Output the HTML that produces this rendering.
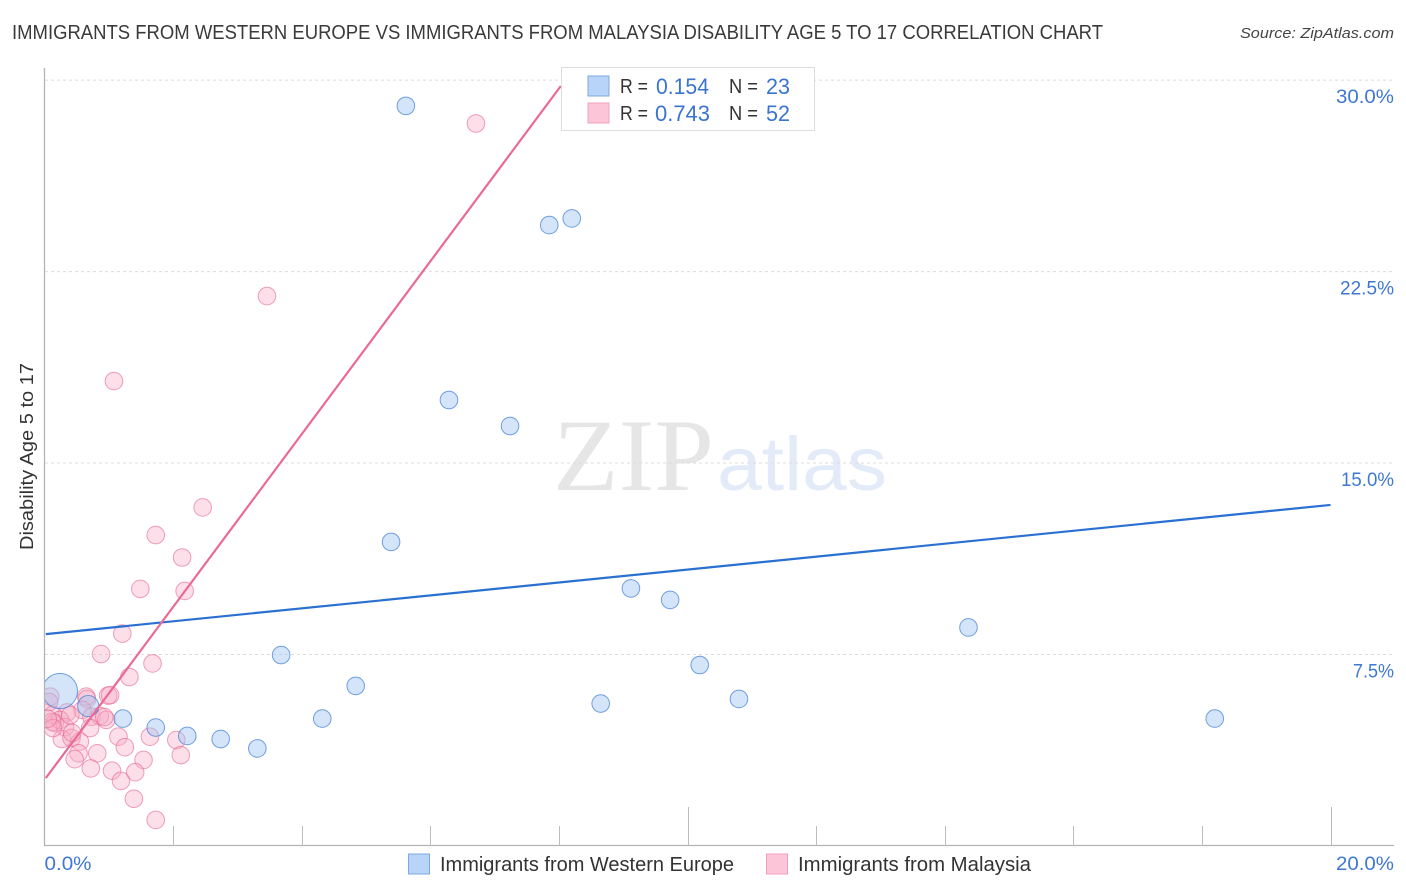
<!DOCTYPE html>
<html lang="en">
<head>
<meta charset="utf-8">
<title>Immigrants from Western Europe vs Immigrants from Malaysia Disability Age 5 to 17 Correlation Chart</title>
<style>
html,body{margin:0;padding:0;background:#fff;}
svg{display:block;font-family:"Liberation Sans",sans-serif;}
</style>
</head>
<body>
<svg id="chart" width="1406" height="892" viewBox="0 0 1406 892" xmlns="http://www.w3.org/2000/svg">
  <defs><clipPath id="plot-clip"><rect x="45" y="60" width="1349" height="786"/></clipPath></defs>
  <text x="12" y="39" font-size="20" fill="#3a3a3a" textLength="1091" lengthAdjust="spacingAndGlyphs">IMMIGRANTS FROM WESTERN EUROPE VS IMMIGRANTS FROM MALAYSIA DISABILITY AGE 5 TO 17 CORRELATION CHART</text>
  <text x="1240" y="38" font-size="15" font-style="italic" fill="#444" textLength="154" lengthAdjust="spacingAndGlyphs">Source: ZipAtlas.com</text>
  <g>
    <text x="553" y="490" font-family="'Liberation Serif',serif" font-size="103" fill="#e6e6e6" textLength="161" lengthAdjust="spacingAndGlyphs">ZIP</text>
    <text x="717" y="490" font-size="76" fill="#e3ebf9" textLength="170" lengthAdjust="spacingAndGlyphs">atlas</text>
  </g>
  <g id="grid"></g>
  <g id="axes"></g>
  <g id="points" clip-path="url(#plot-clip)"></g>
  <g id="trends"></g>
  <g>
    <rect x="561.5" y="67.5" width="253" height="63" fill="#fff" stroke="#ddd" stroke-width="1"/>
    <rect x="588" y="76" width="21" height="20" fill="#b8d4f8" stroke="#7fa9e4"/>
    <rect x="588" y="103" width="21" height="20" fill="#fcc6d8" stroke="#f0a0bc"/>
    <text x="620" y="93" font-size="20" fill="#333" textLength="28" lengthAdjust="spacingAndGlyphs">R =</text>
    <text x="656" y="94" font-size="22" fill="#3a74cf" textLength="53" lengthAdjust="spacingAndGlyphs">0.154</text>
    <text x="729" y="93" font-size="20" fill="#333" textLength="29" lengthAdjust="spacingAndGlyphs">N =</text>
    <text x="766" y="94" font-size="22" fill="#3a74cf" textLength="24" lengthAdjust="spacingAndGlyphs">23</text>
    <text x="620" y="120" font-size="20" fill="#333" textLength="28" lengthAdjust="spacingAndGlyphs">R =</text>
    <text x="655" y="121" font-size="22" fill="#3a74cf" textLength="55" lengthAdjust="spacingAndGlyphs">0.743</text>
    <text x="729" y="120" font-size="20" fill="#333" textLength="29" lengthAdjust="spacingAndGlyphs">N =</text>
    <text x="766" y="121" font-size="22" fill="#3a74cf" textLength="24" lengthAdjust="spacingAndGlyphs">52</text>
  </g>
  <text transform="translate(33,550) rotate(-90)" font-size="18" fill="#333" textLength="187" lengthAdjust="spacingAndGlyphs">Disability Age 5 to 17</text>
  <g>
    <g>
      <rect x="408.500" y="854" width="21" height="20" fill="#b8d4f8" stroke="#7fa9e4"/>
      <text x="440" y="871" font-size="20" fill="#333" textLength="294" lengthAdjust="spacingAndGlyphs">Immigrants from Western Europe</text>
    </g>
    <g>
      <rect x="766.500" y="854" width="21" height="20" fill="#fcc6d8" stroke="#f0a0bc"/>
      <text x="798" y="871" font-size="20" fill="#333" textLength="233" lengthAdjust="spacingAndGlyphs">Immigrants from Malaysia</text>
    </g>
  </g>
</svg>
<script>
const yTickValues = [7.5, 15, 22.5, 30];
const yTickLabels = ['7.5%', '15.0%', '22.5%', '30.0%'];
const xTickValues = [0, 2, 4, 6, 8, 10, 12, 14, 16, 18, 20];
const xEndLabels = ['0.0%', '20.0%'];

const westernEuropeX = [5.62, 7.85, 8.20, 6.29, 7.24, 5.39, 9.12, 9.73, 14.37, 10.19, 3.68, 4.84, 10.80, 8.65, 4.32, 18.20, 1.22, 1.73, 2.22, 2.74, 3.31, 0.68, 0.24];
const westernEuropeY = [28.99, 24.32, 24.58, 17.47, 16.45, 11.91, 10.09, 9.64, 8.56, 7.09, 7.48, 6.27, 5.76, 5.58, 4.99, 4.99, 4.99, 4.64, 4.31, 4.19, 3.82, 5.48, 6.07];
const westernEuropeWeight = [1, 1, 1, 1, 1, 1, 1, 1, 1, 1, 1, 1, 1, 1, 1, 1, 1, 1, 1, 1, 1, 1.2, 2];

const malaysiaX = [6.71, 3.46, 1.08, 2.46, 1.73, 2.14, 1.49, 2.18, 1.21, 0.88, 1.68, 1.32, 0.65, 0.66, 0.99, 1.02, 0.09, 0.07, 0.59, 0.73, 0.86, 0.96, 0.71, 0.35, 0.13, 0.16, 0.24, 0.32, 0.27, 0.42, 0.55, 1.15, 1.25, 1.64, 2.05, 2.12, 0.82, 0.53, 0.47, 0.72, 1.05, 1.54, 1.41, 1.19, 1.39, 1.73, 0.93, 0.12, 0.40, 0.13, 0.43, 0.05];
const malaysiaY = [28.30, 21.54, 18.21, 13.26, 12.18, 11.30, 10.07, 9.99, 8.32, 7.52, 7.15, 6.62, 5.85, 5.76, 5.89, 5.91, 5.85, 5.64, 5.33, 5.06, 5.09, 4.94, 4.62, 5.23, 5.14, 4.82, 4.94, 4.66, 4.19, 4.23, 4.09, 4.28, 3.87, 4.28, 4.15, 3.56, 3.63, 3.63, 3.40, 3.04, 2.95, 3.37, 2.89, 2.55, 1.85, 1.02, 5.05, 4.86, 5.12, 4.62, 4.43, 4.98];

const westernEuropeTrendX = [0.02, 20];
const westernEuropeTrendY = [8.30, 13.36];
const malaysiaTrendX = [0.02, 8.03];
const malaysiaTrendY = [2.66, 29.77];

const NS = 'http://www.w3.org/2000/svg';
const xScale = v => 44.5 + v * 64.3;
const yScale = v => 846 - v * 25.53;
const BASE_RADIUS = 8.8;
const GLYPH_WIDTHS = {'0': 13, '1': 6, '2': 10, '3': 10, '5': 12, '7': 7, '.': 5, '%': 17};
const labelWidth = s => s.split('').reduce((sum, ch) => sum + (GLYPH_WIDTHS[ch] || 11), 0);

function make(tag, attrs, parent) {
  const el = document.createElementNS(NS, tag);
  for (const k in attrs) el.setAttribute(k, attrs[k]);
  parent.appendChild(el);
  return el;
}

const grid = document.getElementById('grid');
const axes = document.getElementById('axes');
const points = document.getElementById('points');
const trends = document.getElementById('trends');

yTickValues.forEach((v, i) => {
  const line = make('line', {x1: 45, x2: 1394, y1: yScale(v), y2: yScale(v), stroke: '#dcdcdc', 'stroke-width': 1, 'stroke-dasharray': '3 3'}, grid);
  
  
  const w = labelWidth(yTickLabels[i]);
  const label = make('text', {x: 1394 - w, y: yScale(v) + 23, 'font-size': 19.5, fill: '#3f78d2', textLength: w, lengthAdjust: 'spacingAndGlyphs'}, axes);
  
  
  label.textContent = yTickLabels[i];
});

const yAxisLine = make('line', {x1: 44.5, x2: 44.5, y1: 68, y2: 846, stroke: '#b4b4b4', 'stroke-width': 1.3}, axes);


const xAxisLine = make('line', {x1: 44, x2: 1394, y1: 845.5, y2: 845.5, stroke: '#b4b4b4', 'stroke-width': 1.3}, axes);



xTickValues.forEach((v, i) => {
  if (i === 0) return;
  const top = (v === 10 || v === 20) ? 807 : 826;
  const tick = make('line', {x1: Math.round(xScale(v)) + 0.5, x2: Math.round(xScale(v)) + 0.5, y1: top, y2: 846, stroke: '#bdbdbd', 'stroke-width': 1}, axes);
  
  
});

const xLabelLeft = make('text', {x: xScale(xTickValues[0]), y: 870, 'font-size': 19.5, fill: '#3f78d2', textLength: 47, lengthAdjust: 'spacingAndGlyphs'}, axes);


xLabelLeft.textContent = xEndLabels[0];
const xLabelRight = make('text', {x: 1336, y: 870, 'font-size': 19.5, fill: '#3f78d2', textLength: 58, lengthAdjust: 'spacingAndGlyphs'}, axes);


xLabelRight.textContent = xEndLabels[1];

malaysiaX.forEach((x, i) => {
  const c = make('circle', {cx: xScale(x), cy: yScale(malaysiaY[i]), r: BASE_RADIUS, fill: 'rgba(248,170,196,0.38)', stroke: 'rgba(230,100,142,0.6)', 'stroke-width': 1}, points);
  
  
});
westernEuropeX.forEach((x, i) => {
  const c = make('circle', {cx: xScale(x), cy: yScale(westernEuropeY[i]), r: BASE_RADIUS * westernEuropeWeight[i], fill: 'rgba(160,198,242,0.45)', stroke: 'rgba(70,130,215,0.75)', 'stroke-width': 1}, points);
  
  
});

const blueTrend = make('line', {x1: xScale(westernEuropeTrendX[0]), y1: yScale(westernEuropeTrendY[0]), x2: xScale(westernEuropeTrendX[1]), y2: yScale(westernEuropeTrendY[1]), stroke: '#2a70d2', 'stroke-width': 2.2}, trends);


const pinkTrend = make('line', {x1: xScale(malaysiaTrendX[0]), y1: yScale(malaysiaTrendY[0]), x2: xScale(malaysiaTrendX[1]), y2: yScale(malaysiaTrendY[1]), stroke: '#ea6a96', 'stroke-width': 2.2}, trends);


</script>
</body>
</html>
